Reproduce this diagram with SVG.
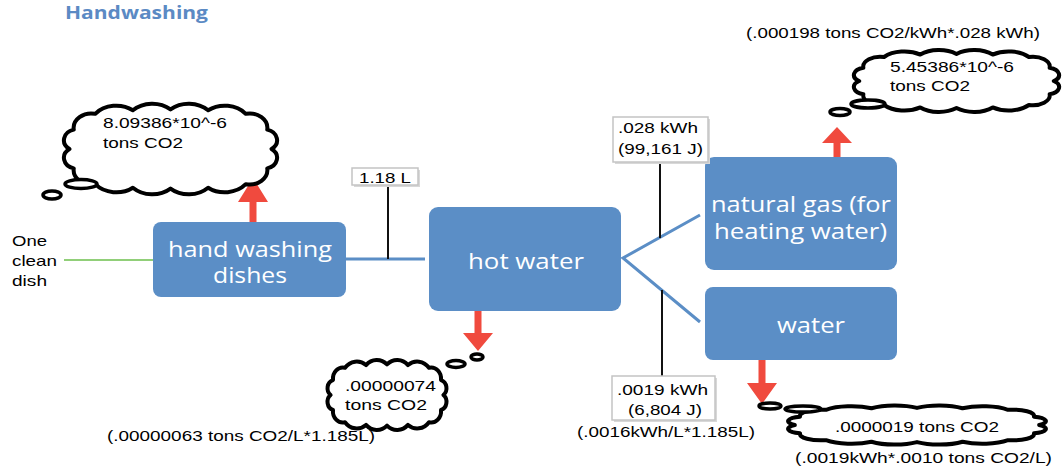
<svg xmlns="http://www.w3.org/2000/svg" width="1062" height="469" viewBox="0 0 1062 469">
<style>
.box{fill:#5b8ec6;}
.bt{font-family:"Open Sans","Liberation Sans",sans-serif;font-size:21px;fill:#ffffff;}
.t{font-family:"Liberation Sans",Arial,sans-serif;font-size:15px;fill:#000000;}
.lbl{fill:#ffffff;stroke:#c4c4c4;stroke-width:1.5;}
.shd{fill:#d8d8d8;}
.cloud{fill:#ffffff;stroke:#000000;stroke-width:4;stroke-linejoin:round;}
.bub{fill:#ffffff;stroke:#000000;stroke-width:3.5;}
.arrow{fill:#f04a3e;}
.blue{stroke:#5b8ec6;stroke-width:3;fill:none;}
.blk{stroke:#111111;stroke-width:2;fill:none;}
.grn{stroke:#6cbf4c;stroke-width:1.5;fill:none;}
</style>
<defs>
<path id="cloudShape" vector-effect="non-scaling-stroke" d="M6 50 A12.4 12.4 0 0 1 10 28 A16.5 16.5 0 0 1 30 10 A25.4 25.4 0 0 1 65 6 A25.4 25.4 0 0 1 100 5 A25.4 25.4 0 0 1 135 6 A25.4 25.4 0 0 1 170 10 A16.5 16.5 0 0 1 190 28 A12.4 12.4 0 0 1 194 50 A12.4 12.4 0 0 1 190 72 A16.5 16.5 0 0 1 170 90 A25.4 25.4 0 0 1 135 94 A25.4 25.4 0 0 1 100 95 A25.4 25.4 0 0 1 65 94 A25.4 25.4 0 0 1 30 90 A16.5 16.5 0 0 1 10 72 A12.4 12.4 0 0 1 6 50 Z"/>
</defs>
<rect width="1062" height="469" fill="#ffffff"/>
<text id="title" x="65" y="19" font-family="'Open Sans','Liberation Sans',sans-serif" font-size="18" font-weight="bold" fill="#5b8ac4" textLength="143" lengthAdjust="spacingAndGlyphs">Handwashing</text>

<g id="connectors">
<line class="grn" x1="64" y1="260" x2="153" y2="260"/>
<line class="blue" x1="346" y1="259" x2="425" y2="259"/>
<line class="blk" x1="388" y1="185" x2="388" y2="259"/>
<polyline class="blue" points="700,215 623,258 700,322"/>
<line class="blk" x1="660" y1="162" x2="660" y2="238"/>
<line class="blk" x1="662" y1="290" x2="662" y2="376"/>
<path class="arrow" d="M249.5 222 L249.5 202 L238 202 L253 178 L268 202 L256.5 202 L256.5 222 Z"/>
<path class="arrow" d="M833.5 157 L833.5 143 L822 143 L837 127 L852 143 L840.5 143 L840.5 157 Z"/>
<path class="arrow" d="M474.5 311 L474.5 333 L463 333 L478 351 L493 333 L481.5 333 L481.5 311 Z"/>
<path class="arrow" d="M758.5 360 L758.5 383 L747 383 L762 404 L777 383 L765.5 383 L765.5 360 Z"/>
</g>

<g id="node-dish">
<text class="t" x="12" y="246" textLength="35" lengthAdjust="spacingAndGlyphs">One</text>
<text class="t" x="12" y="266" textLength="45" lengthAdjust="spacingAndGlyphs">clean</text>
<text class="t" x="12" y="286" textLength="35" lengthAdjust="spacingAndGlyphs">dish</text>
</g>

<g id="node-handwashing">
<rect class="box" x="153" y="222" width="193" height="75" rx="8"/>
<text class="bt" x="168" y="257" textLength="164" lengthAdjust="spacingAndGlyphs">hand washing</text>
<text class="bt" x="213" y="283" textLength="74" lengthAdjust="spacingAndGlyphs">dishes</text>
</g>

<g id="node-hotwater">
<rect class="box" x="429" y="207" width="192" height="104" rx="9"/>
<text class="bt" x="468" y="269" textLength="116" lengthAdjust="spacingAndGlyphs">hot water</text>
</g>

<g id="node-naturalgas">
<rect class="box" x="705" y="157" width="192" height="113" rx="9"/>
<text class="bt" x="711" y="212" textLength="180" lengthAdjust="spacingAndGlyphs">natural gas (for</text>
<text class="bt" x="714" y="239" textLength="173" lengthAdjust="spacingAndGlyphs">heating water)</text>
</g>

<g id="node-water">
<rect class="box" x="705" y="287" width="192" height="73" rx="8"/>
<text class="bt" x="777" y="333" textLength="68" lengthAdjust="spacingAndGlyphs">water</text>
</g>

<g id="label-118L">
<rect class="shd" x="354" y="170" width="66" height="17"/>
<rect class="lbl" x="352" y="168" width="66" height="17"/>
<text class="t" x="359" y="183" textLength="52" lengthAdjust="spacingAndGlyphs">1.18 L</text>
</g>

<g id="label-028kWh">
<rect class="shd" x="615" y="119" width="95" height="45"/>
<rect class="lbl" x="613" y="117" width="95" height="45"/>
<text class="t" x="618" y="133" textLength="80" lengthAdjust="spacingAndGlyphs">.028 kWh</text>
<text class="t" x="618" y="154" textLength="85" lengthAdjust="spacingAndGlyphs">(99,161 J)</text>
</g>

<g id="label-0019kWh">
<rect class="shd" x="614" y="378" width="103" height="44"/>
<rect class="lbl" x="612" y="376" width="103" height="44"/>
<text class="t" x="617" y="395" textLength="91" lengthAdjust="spacingAndGlyphs">.0019 kWh</text>
<text class="t" x="628" y="415" textLength="74" lengthAdjust="spacingAndGlyphs">(6,804 J)</text>
<text class="t" x="577" y="437" textLength="178" lengthAdjust="spacingAndGlyphs">(.0016kWh/L*1.185L)</text>
</g>

<g id="cloud-handwashing">
<use href="#cloudShape" class="cloud" transform="translate(63,105) scale(1.075,0.88)"/>
<ellipse class="bub" cx="81" cy="184" rx="16" ry="4.5"/>
<ellipse class="bub" cx="52" cy="195" rx="9" ry="4"/>
<text class="t" x="103" y="128" textLength="124" lengthAdjust="spacingAndGlyphs">8.09386*10^-6</text>
<text class="t" x="103" y="148" textLength="80" lengthAdjust="spacingAndGlyphs">tons CO2</text>
</g>

<g id="cloud-naturalgas">
<use href="#cloudShape" class="cloud" transform="translate(853,51) scale(1.035,0.6)"/>
<ellipse class="bub" cx="868" cy="104" rx="17" ry="4"/>
<ellipse class="bub" cx="840" cy="112" rx="10" ry="3.5"/>
<text class="t" x="890" y="72" textLength="124" lengthAdjust="spacingAndGlyphs">5.45386*10^-6</text>
<text class="t" x="890" y="91" textLength="80" lengthAdjust="spacingAndGlyphs">tons CO2</text>
<text class="t" x="746" y="38" textLength="294" lengthAdjust="spacingAndGlyphs">(.000198 tons CO2/kWh*.028 kWh)</text>
</g>

<g id="cloud-hotwater">
<use href="#cloudShape" class="cloud" transform="translate(327,361) scale(0.6,0.68)"/>
<ellipse class="bub" cx="456" cy="364" rx="9" ry="3.5"/>
<ellipse class="bub" cx="477" cy="357" rx="6" ry="3"/>
<text class="t" x="345" y="391" textLength="91" lengthAdjust="spacingAndGlyphs">.00000074</text>
<text class="t" x="345" y="410" textLength="82" lengthAdjust="spacingAndGlyphs">tons CO2</text>
<text class="t" x="107" y="441" textLength="268" lengthAdjust="spacingAndGlyphs">(.00000063 tons CO2/L*1.185L)</text>
</g>

<g id="cloud-water">
<use href="#cloudShape" class="cloud" transform="translate(787,406) scale(1.3,0.38)"/>
<ellipse class="bub" cx="803" cy="409" rx="18" ry="3"/>
<ellipse class="bub" cx="770" cy="406" rx="11" ry="3"/>
<text class="t" x="835" y="432" textLength="164" lengthAdjust="spacingAndGlyphs">.0000019 tons CO2</text>
<text class="t" x="795" y="463" textLength="257" lengthAdjust="spacingAndGlyphs">(.0019kWh*.0010 tons CO2/L)</text>
</g>
</svg>
